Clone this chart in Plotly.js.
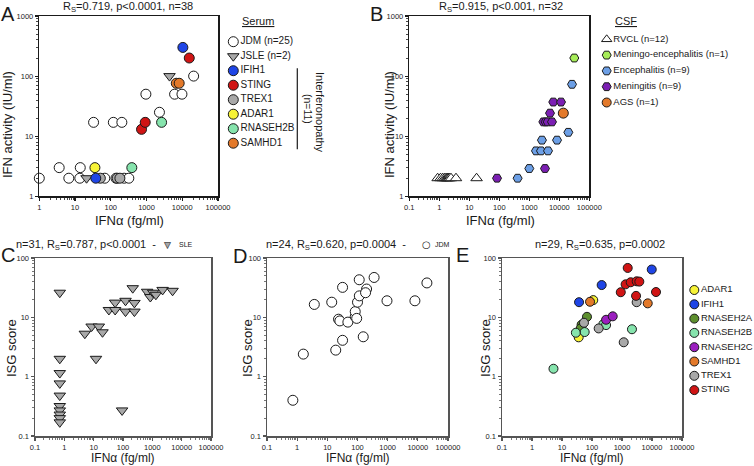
<!DOCTYPE html>
<html><head><meta charset="utf-8">
<script src="https://cdn.plot.ly/plotly-3.0.1.min.js"></script>
<style>html,body{margin:0;padding:0;background:#fff}#chart{width:754px;height:466px}</style>
</head><body><div id="chart"></div>
<script>
// ---------- Panel A: serum IFN-alpha (fg/ml) vs IFN activity (IU/ml)
const aJdmX = [1, 3.6, 6.7, 13.6, 14, 68, 140, 237, 320, 33, 118, 204, 960, 2300, 6100, 9800, 20800];
const aJdmY = [2, 3, 2, 2, 3, 2, 2, 2, 2, 17, 17, 17, 50, 25, 50, 50, 100];
const aJsleX = [21, 4400];
const aJsleY = [2, 100];
const aIfih1X = [38, 10400];
const aIfih1Y = [2, 300];
const aStingX = [725, 920, 15700];
const aStingY = [13, 17, 200];
const aTrex1X = [51, 151, 180];
const aTrex1Y = [2, 2, 2];
const aAdar1X = [36];
const aAdar1Y = [3];
const aRnaseh2bX = [388, 2640];
const aRnaseh2bY = [3, 17];
const aSamhd1X = [6800, 8200];
const aSamhd1Y = [76, 76];
const aLegendLabels = ['JDM (n=25)', 'JSLE (n=2)', 'IFIH1', 'STING', 'TREX1', 'ADAR1', 'RNASEH2B', 'SAMHD1'];

// ---------- Panel B: CSF
const bRvclX = [0.88, 1.1, 1.3, 1.5, 1.67, 1.8, 1.9, 2.05, 2.2, 2.45, 3.6, 17.5];
const bRvclY = [2, 2, 2, 2, 2, 2, 2, 2, 2, 2, 2, 2];
const bMenEncX = [31600];
const bMenEncY = [200];
const bEncX = [26500, 20000, 8400, 2640, 1670, 2450, 4200, 1000, 408];
const bEncY = [73, 11.6, 8.6, 8.6, 5.7, 5.7, 5.7, 2.9, 2];
const bMeninX = [84, 3330, 2940, 3500, 4100, 5700, 4900, 6300, 11400];
const bMeninY = [2, 2.9, 17.3, 17.3, 17.3, 17.3, 24.2, 37, 37];
const bAgsX = [13600];
const bAgsY = [24.2];
const bLegendLabels = ['RVCL (n=12)', 'Meningo-encephalitis (n=1)', 'Encephalitis (n=9)', 'Meningitis (n=9)', 'AGS (n=1)'];

// ---------- Panel C: SLE, IFN-alpha vs ISG score
const cSleX = [0.7, 0.7, 0.7, 0.7, 0.7, 0.7, 0.7, 0.7, 0.7, 0.7, 5, 8.5, 15, 20, 12, 33, 54, 54, 122, 122, 245, 245, 215, 665, 855, 1070, 1320, 2240, 4900, 93];
const cSleY = [26, 2.0, 1.15, 0.77, 0.48, 0.32, 0.27, 0.23, 0.2, 0.17, 5.3, 7, 7, 5.6, 2, 13.3, 13.3, 17.7, 19, 12.5, 17.5, 12.5, 31, 27, 22, 26, 24, 29, 28, 0.27];

// ---------- Panel D: JDM
const dJdmX = [0.72, 1.6, 3.7, 14, 32, 19, 32, 23.5, 26, 48, 84, 84, 94, 100, 114, 115, 200, 185, 155, 355, 950, 8000, 20000];
const dJdmY = [0.40, 2.4, 16.5, 18, 32, 2.8, 4.1, 9.3, 8.7, 8.3, 10.3, 12.5, 9.6, 18, 43, 23, 30, 26, 4.7, 47, 19, 19, 38];

// ---------- Panel E: interferonopathies
const eAdar1X = [110, 36];
const eAdar1Y = [19.5, 4.6];
const eIfih1X = [9800, 210, 37];
const eIfih1Y = [64, 35, 18];
const eRnaseh2aX = [68, 45, 42];
const eRnaseh2aY = [10.2, 7.5, 6.5];
const eRnaseh2bX = [29, 57, 240, 295, 2150, 5.2];
const eRnaseh2bY = [5.5, 5.65, 7.7, 7.4, 6.3, 1.36];
const eRnaseh2cX = [295, 490];
const eRnaseh2cY = [9.1, 10.4];
const eSamhd1X = [86, 7200];
const eSamhd1Y = [18.3, 17.2];
const eTrex1X = [3080, 54, 167, 1140];
const eTrex1Y = [18, 8.1, 6.5, 3.8];
const eStingX = [1550, 1320, 1950, 3080, 3780, 910, 2940, 13600];
const eStingY = [68, 36, 39, 40.5, 40, 26.5, 23, 26.7];
const eLegendLabels = ['ADAR1', 'IFIH1', 'RNASEH2A', 'RNASEH2B', 'RNASEH2C', 'SAMHD1', 'TREX1', 'STING'];

// ---------- tick labels
const xTicksA = [1, 10, 100, 1000, 10000, 100000];
const xTicksAText = ['1', '10', '100', '1000', '10000', '100000'];
const xTicksW = [0.1, 1, 10, 100, 1000, 10000, 100000];
const xTicksWText = ['0.1', '1', '10', '100', '1000', '10000', '100000'];
const yTicksIfn = [1, 10, 100, 1000];
const yTicksIfnText = ['1', '10', '100', '1000'];
const yTicksIsg = [0.1, 1, 10, 100];
const yTicksIsgText = ['0.1', '1', '10', '100'];

// ---------- styles
const FONT = 'Liberation Sans, Arial, Helvetica, sans-serif';
const W = 754, H = 466;
const C = {
  white: '#ffffff', gray: '#a8a8a8', blue: '#1f45e6', red: '#d01414', yellow: '#f7f336',
  mint: '#86e4ad', orange: '#e3792a', lime: '#a6ec58', lblue: '#6c9fe6', purple: '#7b1fb3',
  dgreen: '#5d8f2e', magenta: '#9b1fbf'
};
const px = v => v / W;
const py = v => 1 - v / H;

function pts(x, y, xa, ya, symbol, color, size) {
  return {
    type: 'scatter', mode: 'markers', x, y, xaxis: xa, yaxis: ya, cliponaxis: false,
    hoverinfo: 'x+y',
    marker: {symbol, color, size, line: {color: '#1a1a1a', width: 1}}
  };
}
function legendTrace(labels, xa, ya, symbols, colors, size, fsize) {
  return {
    type: 'scatter', mode: 'markers+text', x: labels.map(() => 0), y: labels,
    xaxis: xa, yaxis: ya, cliponaxis: false, hoverinfo: 'skip',
    text: labels, textposition: 'middle right',
    textfont: {family: FONT, size: fsize, color: '#1a1a1a'},
    marker: {symbol: symbols, color: colors, size, line: {color: '#1a1a1a', width: 1}}
  };
}
function logAxis(dom, range, tv, tt, anchor, lc) {
  return {
    type: 'log', domain: dom, range, anchor,
    showline: true, mirror: true, linecolor: lc, linewidth: 1.5,
    ticks: 'outside', ticklen: 3, tickwidth: 1.2, tickcolor: lc,
    tickmode: 'array', tickvals: tv, ticktext: tt,
    tickfont: {family: FONT, size: 7.5, color: '#222'},
    minor: {ticks: 'outside', ticklen: 2, tickwidth: 0.8, tickcolor: lc, dtick: 'D1', showgrid: false},
    showgrid: false, zeroline: false, fixedrange: true
  };
}
function legAxisX(left, anchor) {
  return {domain: [px(left), Math.min(1, px(left + 120))], range: [0, 1], visible: false, fixedrange: true, anchor};
}
function legAxisY(top, bottom, labels, anchor) {
  return {domain: [py(bottom), py(top)], type: 'category', categoryarray: labels,
          range: [labels.length - 0.5, -0.5], visible: false, fixedrange: true, anchor};
}

const traces = [
  // A
  pts(aJdmX, aJdmY, 'x', 'y', 'circle', C.white, 10),
  pts(aJsleX, aJsleY, 'x', 'y', 'triangle-down', C.gray, 10),
  pts(aTrex1X, aTrex1Y, 'x', 'y', 'circle', C.gray, 10),
  pts(aIfih1X, aIfih1Y, 'x', 'y', 'circle', C.blue, 10),
  pts(aStingX, aStingY, 'x', 'y', 'circle', C.red, 10),
  pts(aAdar1X, aAdar1Y, 'x', 'y', 'circle', C.yellow, 10),
  pts(aRnaseh2bX, aRnaseh2bY, 'x', 'y', 'circle', C.mint, 10),
  pts(aSamhd1X, aSamhd1Y, 'x', 'y', 'circle', C.orange, 10),
  // B
  pts(bRvclX, bRvclY, 'x2', 'y2', 'triangle-up', C.white, 10),
  pts(bMenEncX, bMenEncY, 'x2', 'y2', 'hexagon2', C.lime, 9),
  pts(bEncX, bEncY, 'x2', 'y2', 'hexagon2', C.lblue, 9),
  pts(bMeninX, bMeninY, 'x2', 'y2', 'hexagon2', C.purple, 9),
  pts(bAgsX, bAgsY, 'x2', 'y2', 'circle', C.orange, 10),
  // C
  pts(cSleX, cSleY, 'x3', 'y3', 'triangle-down', C.gray, 10),
  // D
  pts(dJdmX, dJdmY, 'x4', 'y4', 'circle', C.white, 10),
  // E
  pts(eAdar1X, eAdar1Y, 'x5', 'y5', 'circle', C.yellow, 9),
  pts(eIfih1X, eIfih1Y, 'x5', 'y5', 'circle', C.blue, 9),
  pts(eRnaseh2aX, eRnaseh2aY, 'x5', 'y5', 'circle', C.dgreen, 9),
  pts(eRnaseh2bX, eRnaseh2bY, 'x5', 'y5', 'circle', C.mint, 9),
  pts(eRnaseh2cX, eRnaseh2cY, 'x5', 'y5', 'circle', C.magenta, 9),
  pts(eSamhd1X, eSamhd1Y, 'x5', 'y5', 'circle', C.orange, 9),
  pts(eTrex1X, eTrex1Y, 'x5', 'y5', 'circle', C.gray, 9),
  pts(eStingX, eStingY, 'x5', 'y5', 'circle', C.red, 9),
  // legends
  legendTrace(aLegendLabels, 'x6', 'y6',
    ['circle', 'triangle-down', 'circle', 'circle', 'circle', 'circle', 'circle', 'circle'],
    [C.white, C.gray, C.blue, C.red, C.gray, C.yellow, C.mint, C.orange], 10, 10),
  legendTrace(bLegendLabels, 'x7', 'y7',
    ['triangle-up', 'hexagon2', 'hexagon2', 'hexagon2', 'circle'],
    [C.white, C.lime, C.lblue, C.purple, C.orange], 9, 9.5),
  legendTrace(eLegendLabels, 'x8', 'y8',
    ['circle', 'circle', 'circle', 'circle', 'circle', 'circle', 'circle', 'circle'],
    [C.yellow, C.blue, C.dgreen, C.mint, C.magenta, C.orange, C.gray, C.red], 9, 9.5)
];

const dark = '#1a1a1a', grayLine = '#555555';
const yTop = [py(196.3), py(16)];
const yBot = [py(436), py(258)];

function ann(text, x, y, size, extra) {
  return Object.assign({text, x: px(x), y: py(y), xref: 'paper', yref: 'paper', showarrow: false,
    xanchor: 'center', yanchor: 'middle', font: {family: FONT, size, color: '#1a1a1a'}}, extra || {});
}

const layout = {
  width: W, height: H, margin: {l: 0, r: 0, t: 0, b: 0},
  paper_bgcolor: '#fff', plot_bgcolor: 'rgba(0,0,0,0)', showlegend: false,
  xaxis: logAxis([px(39.3), px(218)], [0, 5], xTicksA, xTicksAText, 'y', dark),
  yaxis: logAxis(yTop, [0, 3], yTicksIfn, yTicksIfnText, 'x', dark),
  xaxis2: logAxis([px(409.3), px(589.3)], [-1, 5], xTicksW, xTicksWText, 'y2', dark),
  yaxis2: logAxis(yTop, [0, 3], yTicksIfn, yTicksIfnText, 'x2', dark),
  xaxis3: logAxis([px(35), px(211)], [-1, 5], xTicksW, xTicksWText, 'y3', grayLine),
  yaxis3: logAxis(yBot, [-1, 2], yTicksIsg, yTicksIsgText, 'x3', grayLine),
  xaxis4: logAxis([px(267), px(448)], [-1, 5], xTicksW, xTicksWText, 'y4', grayLine),
  yaxis4: logAxis(yBot, [-1, 2], yTicksIsg, yTicksIsgText, 'x4', grayLine),
  xaxis5: logAxis([px(502), px(682)], [-1, 5], xTicksW, xTicksWText, 'y5', grayLine),
  yaxis5: logAxis(yBot, [-1, 2], yTicksIsg, yTicksIsgText, 'x5', grayLine),
  xaxis6: legAxisX(233.3, 'y6'),
  yaxis6: legAxisY(34.45, 150.45, aLegendLabels, 'x6'),
  xaxis7: legAxisX(606.7, 'y7'),
  yaxis7: legAxisY(31.4, 110.4, bLegendLabels, 'x7'),
  xaxis8: legAxisX(694.3, 'y8'),
  yaxis8: legAxisY(282.85, 397.25, eLegendLabels, 'x8'),
  shapes: [
    {type: 'line', xref: 'paper', yref: 'paper', x0: px(297.3), x1: px(297.3), y0: py(68.3), y1: py(149.3),
     line: {color: '#1a1a1a', width: 1.2}}
  ],
  annotations: [
    // panel letters
    ann('A', 8, 1, 20, {yanchor: 'top'}), ann('B', 376, 1, 20, {yanchor: 'top'}),
    ann('C', 8, 242, 20, {yanchor: 'top'}), ann('D', 240, 243, 20, {yanchor: 'top'}), ann('E', 463, 242, 20, {yanchor: 'top'}),
    // panel titles
    ann('R<sub>S</sub>=0.719, p&lt;0.0001, n=38', 128, 7, 11),
    ann('R<sub>S</sub>=0.915, p&lt;0.001, n=32', 501, 7, 11),
    ann('n=31, R<sub>S</sub>=0.787, p&lt;0.0001  -', 158, 245, 11, {xanchor: 'right'}),
    ann('▼', 167.3, 245, 9, {font: {family: 'DejaVu Sans', size: 9, color: '#a8a8a8'}}),
    ann('▽', 167.3, 245, 9, {font: {family: 'DejaVu Sans', size: 9, color: '#1a1a1a'}}),
    ann('SLE', 176.5, 245, 7, {xanchor: 'left'}),
    ann('n=24, R<sub>S</sub>=0.620, p=0.0004  -', 408, 245, 11, {xanchor: 'right'}),
    ann('○', 426, 245, 10, {font: {family: 'DejaVu Sans', size: 10, color: '#1a1a1a'}}),
    ann('JDM', 432.5, 245, 7, {xanchor: 'left'}),
    ann('n=29, R<sub>S</sub>=0.635, p=0.0002', 600, 245, 11),
    // axis titles
    ann('IFN activity (IU/ml)', 8, 125, 13, {textangle: -90}),
    ann('IFNα (fg/ml)', 129, 221, 13),
    ann('IFN activity (IU/ml)', 390, 125, 13, {textangle: -90}),
    ann('IFNα (fg/ml)', 500, 221, 13),
    ann('ISG score', 11, 348, 13, {textangle: -90}),
    ann('IFNα (fg/ml)', 123, 458, 12),
    ann('ISG score', 247, 348, 13, {textangle: -90}),
    ann('IFNα (fg/ml)', 358, 458, 12),
    ann('ISG score', 485, 348, 13, {textangle: -90}),
    ann('IFNα (fg/ml)', 592, 458, 12),
    // legend headers
    ann('<u>Serum</u>', 258, 21, 11),
    ann('<u>CSF</u>', 626, 21, 11),
    ann('Interferonopathy', 320, 112, 11, {textangle: 90}),
    ann('(n=11)', 308, 109, 10.5, {textangle: 90})
  ]
};

Plotly.newPlot('chart', traces, layout, {staticPlot: true, displayModeBar: false});
</script>
</body></html>
